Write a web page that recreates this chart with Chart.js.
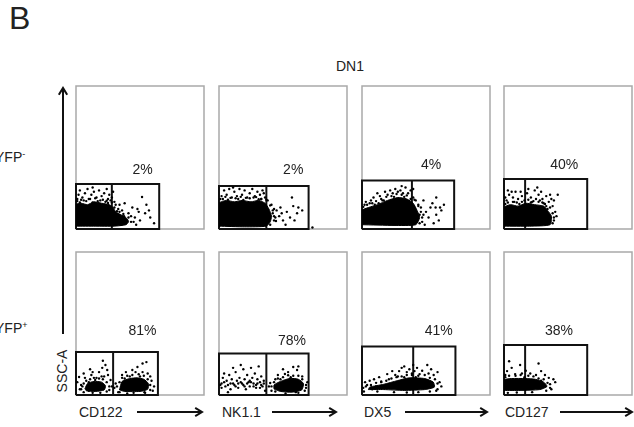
<!DOCTYPE html>
<html>
<head>
<meta charset="utf-8">
<script src="https://cdn.jsdelivr.net/npm/chart.js@4.4.1/dist/chart.umd.min.js"></script>
<style>
  body { margin: 0; background: #fff; font-family: "Liberation Sans", Arial, sans-serif; color: #222; }
  #page { position: relative; width: 634px; height: 427px; overflow: hidden; }
  canvas { position: absolute; }
  .txt { position: absolute; font-size: 14px; line-height: 14px; white-space: nowrap; }
  sup { font-size: 9px; vertical-align: 5px; line-height: 0; }
</style>
</head>
<body>
<div id="page"></div>
<script>
// panel order: top row YFP-, bottom row YFP+, columns by marker
const markers = ['CD122', 'NK1.1', 'DX5', 'CD127'];
const rowLabels = ['YFP<sup>-</sup>', 'YFP<sup>+</sup>'];
const percentLabels = ['2%', '2%', '4%', '40%', '81%', '78%', '41%', '38%'];

// gate boundaries in axis units (0-100)
const gateSplit = [28, 37, 39, 16.5, 29, 37, 40, 16.5];
const gateRight = [65, 70, 72, 65, 64, 70, 73, 65];
const gateTop = [31.5, 30, 34, 35, 30, 29, 34, 35];

// dense cores of the dot clouds (outline)
const coreCD122Neg = [[[0,2],[0,17],[4,18],[9,17],[14,19],[20,18],[26,17],[29,15],[31,12],[35,10],[39,8],[41,5],[39,3],[30,2],[15,2]]];
const coreNK11Neg = [[[0,2],[0,18],[6,20],[12,19],[18,20],[25,19],[31,20],[36,18],[39,14],[41,9],[40,5],[37,2],[20,1.5]]];
const coreDX5Neg = [[[0,3],[0,13],[5,15],[12,17],[20,20],[28,22],[35,21],[40,18],[43,13],[45,8],[42,3],[25,2.5]]];
const coreCD127Neg = [[[0,2],[0,15],[5,17],[11,16],[17,18],[24,17],[31,16],[34,13],[37,9],[36,3],[20,2]]];
const coreCD122Pos = [
  [[7,4.5],[9,8],[14,9.5],[20,9],[23,6.5],[22,3.5],[15,2.5],[8,3]],
  [[34,3.5],[36,9.5],[42,11.5],[48,12],[53,11],[56.5,8],[56,4],[50,2.5],[38,2.5]]
];
const coreNK11Pos = [
  [[43,4.2],[43,7],[48,9.5],[55.5,11.6],[62,11],[66,8],[64.6,3.5],[57,2],[48,2.5]]
];
const coreDX5Pos = [[[5,3.8],[6,5.5],[17,7.5],[27.5,10],[37,12],[49,11.5],[55.7,9],[56.5,5.5],[49,3.8],[33,3.2],[17,3.8]]];
const coreCD127Pos = [[[0,3.2],[0,10.5],[6,11.5],[16.5,11.5],[24.4,11],[31,9],[33.6,6],[28,3.8],[12.6,3.2]]];

// sparse events around the cores
const dotsCD122Neg = [[2,24],[3,27],[5,22],[7,25],[9,28],[10,21],[12,24],[14,26],[16,22],[18,27],[20,23],[22,25],[24,28],[25,21],[26,24],[28,22],[29,26],[30,19],[31,17],[6,20],[19,20],[23,19],[27,20],[13,29],[1,21],
  [34,17],[36,13],[38,18],[40,6],[41,11],[44,15],[45,5],[46,8],[48,14],[49,12],[50,6],[51.6,22.4],[54,11],[55,17],[57,13],[58,8],[61,4],[37.5,9],[32,10],[33,14],[43,9],[47,3],
  [1,19.5],[4,20.5],[8,19.5],[11,21],[15,21.5],[17,19.5],[21,20.5],[24,19.8],[28,18.5],[30,15],[32,12.5],[34,12],[37,10.5],[41,8],[43,5],[39,4],[35,3],[3,18.5],[13,18.5],[25,18.2]];
const dotsNK11Neg = [[2,23],[4,27],[6,24],[8,28],[10,22],[12,26],[14,23],[16,28],[18,24],[20,27],[22,22],[24,25],[26,28],[28,23],[30,26],[32,24],[34,27],[36,22],[35,25],[3,21],[15,21],[27,22],[33,21],[38,20],[11,29],
  [41,17],[42,11],[44,8],[44.5,5.6],[45,13],[48,15],[49,11],[50,6],[53,12],[55.5,8],[57,22],[59,6],[61,11],[62,15],[65,13],[73,1],[43,14],[47,9],[52,3],[58,16],
  [1,21],[5,22.5],[9,21.8],[13,21.5],[17,22.5],[21,21.8],[24,21.5],[29,22.3],[33,21],[37,20.5],[40,16.5],[42,13],[43,9],[43,6],[40,3],[7,20.5],[19,20.3],[31,20.8]];
const dotsDX5Neg = [[2,17],[3,19],[7,20],[9,22],[10,17],[14,23],[15,21],[18,26],[20,24],[22,27],[24,25],[26,28],[28,26],[30,27],[32,25],[34,29],[36,25],[38,27],[40,22],[42,20],[40,28],[17,20],[31,30],[44,17],[12,25],[6,18],
  [45,10],[46,15],[47,5],[48,10],[48,20],[50,12],[52,8],[53.5,15],[56,4],[57.5,15],[58,10],[58,22],[60,6],[61,15],[62,13],[64,17],[49,3],[55,18],
  [1,15.5],[4,17],[8,18],[11,19.5],[16,20],[19,22.5],[23,23],[27,24.5],[31,24],[35,23.5],[38,21],[41,20.5],[44,16],[46,12],[47,8],[45,4],[13,18],[25,22.5],[33,22.5]];
const dotsCD127Neg = [[2,20],[4,24],[7,22],[9,26],[3,27],[11,21],[14,23],[18,25],[21,22],[24,27],[27,24],[30,21],[33,23],[35,19],[38,16],[40,12],[39,20],[41,9],[29,26],[16,20],[22,19],[36,24],[8,19],[25,21],[31,18],[34,14],[39,6],[42,24],[13,26],[19,28],[1,22],[6,26],[28,20],[37,21],[26,29],
  [1,17.5],[3,18.5],[7,19],[10,18.5],[14,19],[19,20.5],[23,19.5],[27,19],[30,18.5],[33,16],[36,15],[38,11],[39,8],[38,4],[12,17.5],[21,18.5],[32,17.5]];
const dotsCD122Pos = [[2.4,12.6],[4,7],[7,12],[12,14],[13,16],[18,16],[20.5,19],[23,21],[24.4,17.5],[22,13],[27,10.5],[26,3.5],[17,6],[3,4],[10,3],[9,6],[16,12],[25,14],[19,1.5],[28,6],[11,18],[6,15],[21,24],[1,9],
  [31,8],[34,2],[39,16],[44,17.5],[46.5,16],[48,19.6],[52,16],[52,22],[53.5,2],[56,15],[59,10],[61,6],[55,23],[36,14],[58,13],[30,5],[45,1.5],[60,3],
  [4,4],[6,8],[8,10],[11,11],[14,12],[18,11.5],[21,11],[24,9],[26,6],[24,2.5],[13,1.5],[6,2],[5,6],[20,13],[15,10.5],[10,9],
  [32,6],[34,9],[36,12],[40,13.5],[44,14],[49,14.5],[53,13.5],[56,11],[58,7],[58,3.5],[54,1.5],[40,1],[33,2],[42,13],[50,13],[38,11.5]];
const dotsNK11Pos = [[2,8],[3,12],[5,6],[6,10],[8,14],[9,4],[10,11],[12,7],[13,16],[14,10],[15,5],[16,12],[18,8],[19,18],[20,11],[21,4],[22,14],[23,9],[24,6],[25,19],[26,12],[27,8],[28,15],[29,5],[30,11],[31,20],[32,9],[33,13],[34,6],[35,10],[36,3],[11,19],[17,21],[4,15],[7,2],
  [1,7],[4,9],[7,7],[11,8],[13,6],[17,9],[19,7],[22,8],[25,9],[27,6],[30,8],[33,7],[2,5],[9,8],[15,8],[20,6],[24,10],[29,7],[32,5],[35,8],
  [39,6],[40,8.4],[44.5,5.6],[46,14],[51.5,14.7],[54,16],[58,19.6],[61,17.5],[65,13],[68,5],[62,20],[50,18],[69,9],[44,11],[60,2],[41,3],
  [41,6],[43,9],[46,11.5],[50,12.5],[54,13.8],[58,13.5],[62,13.5],[65,11],[68,7],[67,3],[62,1.5],[52,1],[44,2.5],[48,11],[56,12.5]];
const dotsDX5Pos = [[1,5],[2.4,9],[4,7],[6,10],[9.4,11],[11,6],[13.4,12.5],[15,9],[19.7,14.6],[21,11],[23.6,16.7],[26,14],[29,16.7],[31,19],[33,20],[35,16],[37,18],[39,15],[41,16.7],[43,19],[45,14.6],[47,17],[51,21],[54,18],[56,14],[59,16],[60.6,9],[62,6],[58,3],[40,21],[28,13],[8,4],[1.5,2.5],[52,15],
  [3,6],[7,7],[11,8.5],[15,9.5],[19,10],[23,11.5],[27,12.5],[31,13],[35,14],[39,14],[44,13.5],[49,14],[53,12],[57,11],[59,8],[59,4],[53,2.5],[44,2],[35,1.8],[25,2],[12,2.5],[33,12.5],[42,12.5]];
const dotsCD127Pos = [[4,23.6],[12.6,21],[27,22],[2.4,16.7],[20.5,15],[32,14],[36,7.6],[38.6,11],[8.7,14.6],[29,16.7],[1,14],[14,15],[25,14],[35,12],[37,4],[40,9],[17,17],[6,19],[3,1.5],
  [1,12.5],[4,13.5],[9,13.5],[13,14],[19,13.5],[23,13],[27,11.5],[31,11],[34,8.5],[36,5],[33,3],[22,2],[10,1.8],[16,12.5],[29,10]];

const cores = [coreCD122Neg, coreNK11Neg, coreDX5Neg, coreCD127Neg, coreCD122Pos, coreNK11Pos, coreDX5Pos, coreCD127Pos];
const dots = [dotsCD122Neg, dotsNK11Neg, dotsDX5Neg, dotsCD127Neg, dotsCD122Pos, dotsNK11Pos, dotsDX5Pos, dotsCD127Pos];

// layout (pixels) and label anchors (axis units)
const panelLeft = [76, 219, 362, 504];
const rowTop = [86, 252];
const panelW = 128, panelH = 143, pad = 4;
const labelX = [52, 58, 54, 47, 52, 57, 60, 43];
const labelY = [41, 41, 45, 45, 45, 38, 45, 45];

const page = document.getElementById('page');

function addText(html, left, top, extra) {
  const d = document.createElement('div');
  d.className = 'txt';
  d.innerHTML = html;
  d.style.left = left + 'px';
  d.style.top = top + 'px';
  if (extra) Object.assign(d.style, extra);
  page.appendChild(d);
  return d;
}

const toXY = pts => pts.map(([x, y]) => ({ x, y }));

// gray frame around each plot
const framePlugin = {
  id: 'frame',
  beforeDatasetsDraw(chart) {
    const a = chart.chartArea, c = chart.ctx;
    c.save();
    c.strokeStyle = '#a9a9a9';
    c.lineWidth = 1.5;
    c.strokeRect(a.left, a.top, a.right - a.left, a.bottom - a.top);
    c.restore();
  }
};

// percent label above the gate
const percentPlugin = {
  id: 'percent',
  afterDatasetsDraw(chart, args, opts) {
    const c = chart.ctx;
    c.save();
    c.fillStyle = '#222';
    c.font = '14px "Liberation Sans", Arial, sans-serif';
    c.textAlign = 'center';
    c.textBaseline = 'middle';
    c.fillText(opts.text, chart.scales.x.getPixelForValue(opts.x), chart.scales.y.getPixelForValue(opts.y));
    c.restore();
  }
};

for (let i = 0; i < 8; i++) {
  const row = Math.floor(i / 4), col = i % 4;
  const cv = document.createElement('canvas');
  cv.width = panelW + pad * 2;
  cv.height = panelH + pad * 2;
  cv.style.left = (panelLeft[col] - pad) + 'px';
  cv.style.top = (rowTop[row] - pad) + 'px';
  page.appendChild(cv);

  const datasets = [];
  cores[i].forEach(poly => {
    datasets.push({
      data: toXY(poly.concat([poly[0]])),
      showLine: true, fill: 'shape', tension: 0.2,
      backgroundColor: '#000', borderColor: '#000', borderWidth: 1, pointRadius: 0
    });
  });
  datasets.push({
    data: toXY(dots[i]),
    showLine: false, pointRadius: 1.2, pointBackgroundColor: '#000', pointBorderWidth: 0
  });
  const top = gateTop[i], right = gateRight[i], split = gateSplit[i];
  datasets.push({
    data: toXY([[0, 0], [0, top], [right, top], [right, 0], [0, 0]]),
    showLine: true, borderColor: '#111', borderWidth: 2, pointRadius: 0, fill: false, clip: false
  });
  datasets.push({
    data: toXY([[split, 0], [split, top]]),
    showLine: true, borderColor: '#111', borderWidth: 2, pointRadius: 0, fill: false, clip: false
  });

  new Chart(cv, {
    type: 'scatter',
    data: { datasets },
    options: {
      responsive: false,
      animation: false,
      devicePixelRatio: 1,
      events: [],
      layout: { padding: pad },
      scales: {
        x: { type: 'linear', min: 0, max: 100, display: false },
        y: { type: 'linear', min: 0, max: 100, display: false }
      },
      plugins: {
        legend: { display: false },
        tooltip: { enabled: false },
        percent: { text: percentLabels[i], x: labelX[i], y: labelY[i] }
      }
    },
    plugins: [framePlugin, percentPlugin]
  });
}

// headings and axis labels
addText('B', 9, 2, { fontSize: '32px', lineHeight: '32px' });
addText('DN1', 336, 59);
addText(rowLabels[0], -5, 150);
addText(rowLabels[1], -5, 321);
addText('SSC-A', 41, 364, { transform: 'rotate(-90deg)', transformOrigin: 'center' });
const markerLeft = [79, 222, 364, 505];
markers.forEach((m, k) => addText(m, markerLeft[k], 405));

// arrows
const svgNS = 'http://www.w3.org/2000/svg';
const svg = document.createElementNS(svgNS, 'svg');
svg.setAttribute('width', 634);
svg.setAttribute('height', 427);
svg.style.position = 'absolute';
svg.style.left = '0';
svg.style.top = '0';
const arrows = [
  [63, 334, 63, 88],
  [137, 412, 202, 412],
  [272, 412, 336, 412],
  [405, 412, 487, 412],
  [560, 412, 632, 412]
];
arrows.forEach(([x1, y1, x2, y2]) => {
  const l = document.createElementNS(svgNS, 'line');
  l.setAttribute('x1', x1); l.setAttribute('y1', y1);
  l.setAttribute('x2', x2); l.setAttribute('y2', y2);
  l.setAttribute('stroke', '#111'); l.setAttribute('stroke-width', '2');
  svg.appendChild(l);
  const ang = Math.atan2(y2 - y1, x2 - x1);
  const hl = 8, hw = 0.55;
  const p = document.createElementNS(svgNS, 'polyline');
  const ax = x2 - hl * Math.cos(ang - hw), ay = y2 - hl * Math.sin(ang - hw);
  const bx = x2 - hl * Math.cos(ang + hw), by = y2 - hl * Math.sin(ang + hw);
  p.setAttribute('points', `${ax},${ay} ${x2},${y2} ${bx},${by}`);
  p.setAttribute('fill', 'none'); p.setAttribute('stroke', '#111'); p.setAttribute('stroke-width', '2');
  svg.appendChild(p);
});
page.appendChild(svg);
</script>
</body>
</html>
